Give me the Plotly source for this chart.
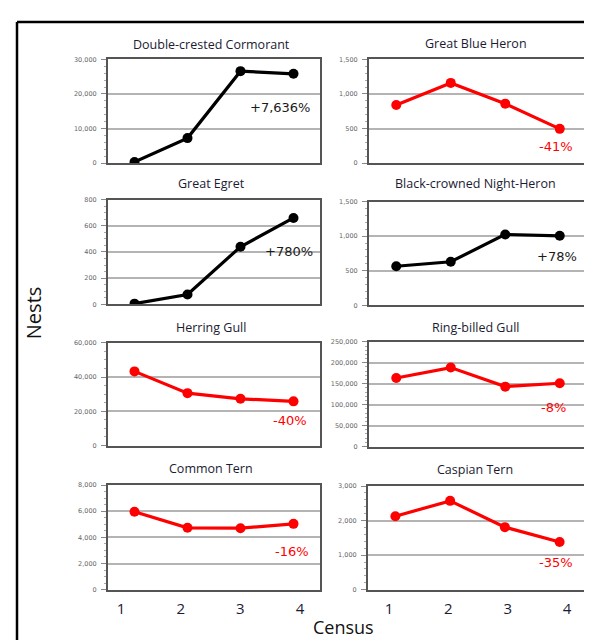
import plotly.graph_objects as go

W, H = 592, 640

census = [1, 2, 3, 4]
census_labels = ["1", "2", "3", "4"]

species = ["Double-crested Cormorant", "Great Blue Heron", "Great Egret",
           "Black-crowned Night-Heron", "Herring Gull", "Ring-billed Gull",
           "Common Tern", "Caspian Tern"]

cormorant = [334, 7230, 26600, 25840]
blue_heron = [840, 1160, 860, 495]
egret = [5, 75, 440, 660]
night_heron = [565, 630, 1025, 1005]
herring_gull = [43300, 30600, 27300, 25800]
ringbilled_gull = [163500, 188500, 143000, 151000]
common_tern = [5960, 4730, 4700, 5030]
caspian_tern = [2125, 2570, 1810, 1380]

series = [cormorant, blue_heron, egret, night_heron,
          herring_gull, ringbilled_gull, common_tern, caspian_tern]
changes = ["+7,636%", "-41%", "+780%", "+78%", "-40%", "-8%", "-16%", "-35%"]
y_max = [30000, 1500, 800, 1500, 60000, 250000, 8000, 3000]
y_step = [10000, 500, 200, 500, 20000, 50000, 2000, 1000]

# layout in pixels (left, right, top, bottom)
boxes = [(100, 312, 48, 153), (361, 579, 48, 153),
         (100, 312, 190, 296), (361, 579, 192, 297),
         (100, 312, 335, 439), (361, 579, 334, 440),
         (100, 312, 479, 585), (360, 579, 480, 585)]
title_y = [33, 32, 174, 174, 319, 319, 462, 463]
title_x = [203, 468, 203, 467, 203, 467, 203, 467]
pct_pos = [(0.81, 0.533), (0.858, 0.162), (0.854, 0.50), (0.862, 0.467),
           (0.858, 0.24), (0.848, 0.377), (0.868, 0.368), (0.858, 0.267)]

TITLE_FONT = "Open Sans, Noto Sans, sans-serif"
fig = go.Figure()
layout = dict(width=W, height=H, margin=dict(l=0, r=0, t=0, b=0),
              paper_bgcolor="white", plot_bgcolor="white", showlegend=False)
annotations = []

for i, (name, vals) in enumerate(zip(species, series)):
    k = i + 1
    xa = "x" if k == 1 else f"x{k}"
    ya = "y" if k == 1 else f"y{k}"
    color = "#000000" if changes[i].startswith("+") else "#ff0000"
    fig.add_trace(go.Scatter(x=census, y=vals, xaxis=xa, yaxis=ya,
                             mode="lines+markers",
                             line=dict(color=color, width=3.2),
                             marker=dict(color=color, size=10),
                             hoverinfo="skip"))
    l, r, t, b = boxes[i]
    layout[f"xaxis{'' if k == 1 else k}"] = dict(
        domain=[l / W, r / W], anchor=ya, range=[0.5, 4.5],
        showticklabels=False, ticks="", showgrid=False, zeroline=False,
        showline=True, mirror=True, linecolor="#555555", linewidth=2)
    layout[f"yaxis{'' if k == 1 else k}"] = dict(
        domain=[1 - b / H, 1 - t / H], anchor=xa, range=[0, y_max[i]],
        dtick=y_step[i], tick0=0, tickformat=",",
        showgrid=True, gridcolor="#b4b4b4", gridwidth=1.5, zeroline=False,
        showline=True, mirror=True, linecolor="#555555", linewidth=2,
        ticks="outside", ticklen=5, tickcolor="#888888", tickwidth=1,
        ticklabelstandoff=3,
        minor=dict(ticks="outside", ticklen=2, tickcolor="#aaaaaa", nticks=5,
                   showgrid=False),
        tickfont=dict(family="DejaVu Sans, sans-serif", size=6.5, color="#666666"))
    annotations.append(dict(text=name, xref="paper", yref="paper",
                            x=title_x[i] / W, y=1 - title_y[i] / H,
                            xanchor="center", yanchor="middle", showarrow=False,
                            font=dict(family=TITLE_FONT, size=12.5, color="#1b1b33")))
    px_, py_ = pct_pos[i]
    annotations.append(dict(text=changes[i], xref=f"{xa} domain", yref=f"{ya} domain",
                            x=px_, y=py_, xanchor="center", yanchor="middle",
                            showarrow=False,
                            font=dict(family="DejaVu Sans, sans-serif", size=13,
                                      color="#1a1a1a" if color == "#000000" else "#ff0000")))

# census tick labels on overlay axes below the bottom panels
for k, base, rng in [(9, 7, [0.782, 4.335]), (10, 8, [0.646, 4.337])]:
    fig.add_trace(go.Scatter(x=[None], y=[None], xaxis=f"x{k}", yaxis=f"y{base}",
                             showlegend=False, hoverinfo="skip"))
    l, r, t, b = boxes[base - 1]
    layout[f"xaxis{k}"] = dict(
        domain=[l / W, r / W], anchor=f"y{base}", overlaying=f"x{base}",
        range=rng, tickvals=census, ticktext=census_labels,
        showgrid=False, zeroline=False, showline=False, ticks="",
        ticklabelstandoff=8,
        tickfont=dict(family=TITLE_FONT, size=15, color="#1b1b33"))

annotations.append(dict(text="Nests", xref="paper", yref="paper",
                        x=25 / W, y=1 - 305 / H, textangle=-90,
                        xanchor="center", yanchor="middle", showarrow=False,
                        font=dict(family=TITLE_FONT, size=20, color="#111111")))
annotations.append(dict(text="Census", xref="paper", yref="paper",
                        x=335 / W, y=1 - 623 / H,
                        xanchor="center", yanchor="middle", showarrow=False,
                        font=dict(family=TITLE_FONT, size=18, color="#111111")))

layout["annotations"] = annotations
frame = dict(color="black", width=2.5)
layout["shapes"] = [
    dict(type="line", xref="paper", yref="paper", layer="above",
         x0=9 / W, x1=1.0, y0=1 - 10 / H, y1=1 - 10 / H, line=frame),
    dict(type="line", xref="paper", yref="paper", layer="above",
         x0=9 / W, x1=9 / W, y0=0.0, y1=1 - 10 / H, line=frame),
]
fig.update_layout(**layout)
fig.write_html("out.html", config={"displayModeBar": False})
